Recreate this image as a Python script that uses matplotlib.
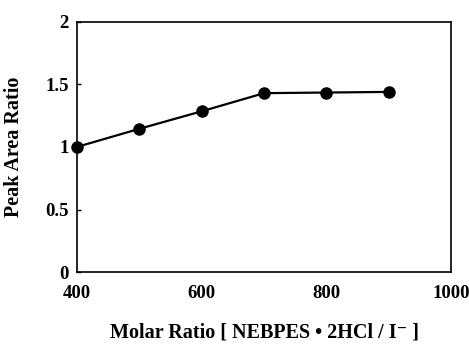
import matplotlib
matplotlib.use("Agg")
import matplotlib.pyplot as plt

molar_ratio = [400, 500, 600, 700, 800, 900]
peak_area_ratio = [1.00, 1.145, 1.285, 1.43, 1.435, 1.44]
x_ticks = [400, 600, 800, 1000]
y_ticks = [0, 0.5, 1, 1.5, 2]
y_ticklabels = ["0", "0.5", "1", "1.5", "2"]

plt.rcParams['font.family'] = ['Liberation Serif', 'DejaVu Serif']
plt.rcParams['font.weight'] = 'bold'

fig = plt.figure(figsize=(4.69, 3.47), dpi=100)
ax = fig.add_axes([0.164, 0.216, 0.798, 0.721])
ax.plot(molar_ratio, peak_area_ratio, color='black', lw=1.6, marker='o', ms=8, clip_on=False, zorder=3)
ax.set_xlim(400, 1000)
ax.set_ylim(0, 2)
ax.set_xticks(x_ticks)
ax.set_yticks(y_ticks)
ax.set_yticklabels(y_ticklabels)
ax.tick_params(axis='both', direction='in', length=3, width=1, labelsize=13.5)
ax.tick_params(axis='x', length=0, pad=9)
ax.tick_params(axis='y', pad=6)
for lab in ax.get_xticklabels() + ax.get_yticklabels():
    lab.set_fontweight('bold')
for s in ax.spines.values():
    s.set_linewidth(1.2)
ax.set_xlabel("Molar Ratio [ NEBPES \u2022 2HCl / I\u207b ]", fontsize=14.5, fontweight='bold')
ax.set_ylabel("Peak Area Ratio", fontsize=14.5, fontweight='bold')
ax.xaxis.set_label_coords(0.5, -0.2)
ax.yaxis.set_label_coords(-0.142, 0.5)
fig.savefig("out.png", dpi=100)
